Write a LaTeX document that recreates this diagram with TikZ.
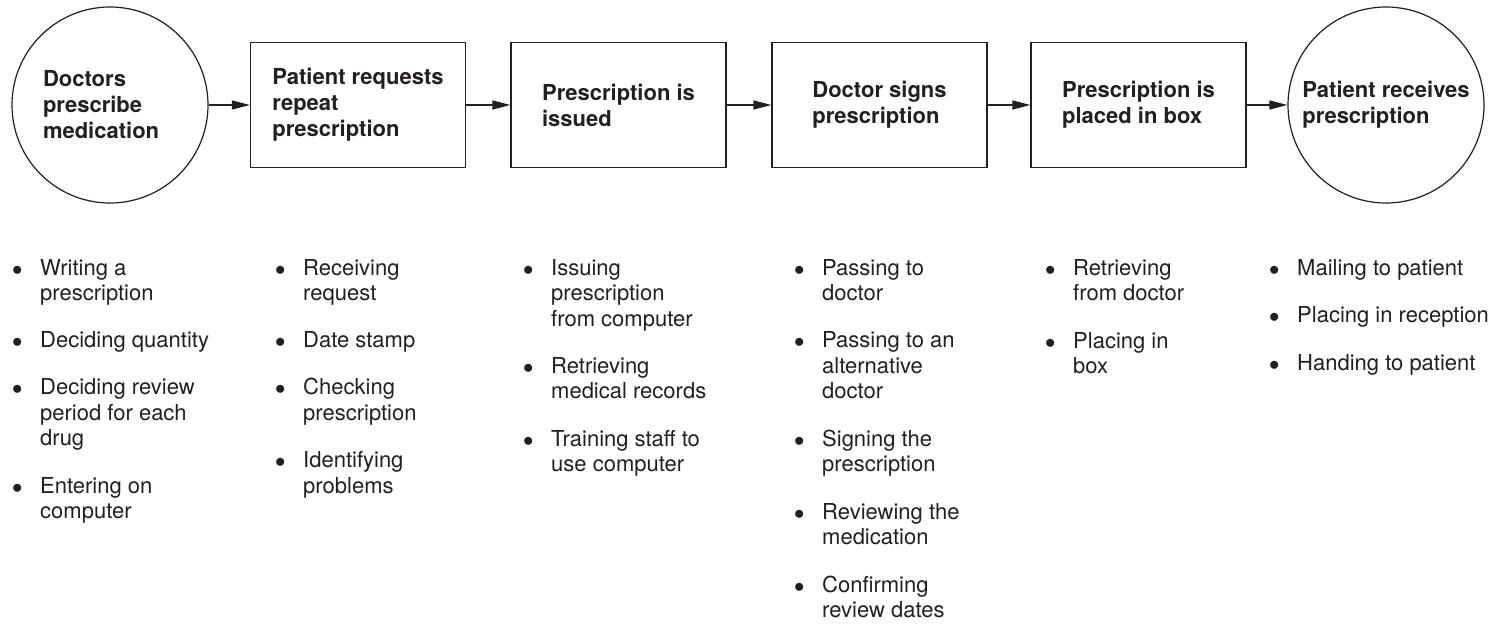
\documentclass[tikz,border=0pt]{standalone}
\usepackage{fontspec}
\setmainfont{TeX Gyre Heros}
\usetikzlibrary{arrows.meta}
\definecolor{ink}{HTML}{231F20}
\tikzset{
  stage/.style={draw=ink, text=ink, line width=1.2pt, minimum width=215pt,
    minimum height=125pt, inner sep=0pt, align=left,
    font=\bfseries\fontsize{22}{26}\selectfont},
  ends/.style={stage, circle, minimum size=196pt},
  task/.style={anchor=base west, inner sep=0pt, text=ink,
    font=\fontsize{22}{25.6}\selectfont}
}
\newcommand\bul[1]{\makebox[28pt][l]{$\bullet$}\begin{tabular}[t]{@{}l@{}}#1\end{tabular}}
\begin{document}
\begin{tikzpicture}[x=1pt,y=-1pt]
      \useasboundingbox (0,0) rectangle (1507,624);
      \node[ends, text width=134pt] (doc) at (110,105) {Doctors\\prescribe\\medication};
      \node[stage] (req) at (358,105) {Patient requests\\repeat\\prescription};
      \node[stage] (iss) at (618.5,105) {Prescription is\\issued};
      \node[stage] (sign) at (879.5,105) {Doctor signs\\prescription};
      \node[stage] (box) at (1138.5,105) {Prescription is\\placed in box};
      \node[ends] (recv) at (1386,105) {Patient receives\\prescription};
      \begin{scope}[draw=ink, line width=1.2pt, -{Triangle[length=18pt,width=9pt]}]
        \draw (doc) to (req);
        \draw (req) to (iss);
        \draw (iss) to (sign);
        \draw (sign) to (box);
        \draw (box) to (recv);
      \end{scope}
      % tasks under each stage
      \node[task] (doc1) at (12,275) {\bul{Writing a\\prescription}};
      \node[task] (doc2) at (12,347.5) {\bul{Deciding quantity}};
      \node[task] (doc3) at (12,394.5) {\bul{Deciding review\\period for each\\drug}};
      \node[task] (doc4) at (12,493) {\bul{Entering on\\computer}};
      \node[task] (req1) at (275,275) {\bul{Receiving\\request}};
      \node[task] (req2) at (275,347.5) {\bul{Date stamp}};
      \node[task] (req3) at (275,394.5) {\bul{Checking\\prescription}};
      \node[task] (req4) at (275,467.5) {\bul{Identifying\\problems}};
      \node[task] (iss1) at (523,275) {\bul{Issuing\\prescription\\from computer}};
      \node[task] (iss2) at (523,373) {\bul{Retrieving\\medical records}};
      \node[task] (iss3) at (523,446) {\bul{Training staff to\\use computer}};
      \node[task] (sign1) at (794,275) {\bul{Passing to\\doctor}};
      \node[task] (sign2) at (794,347.5) {\bul{Passing to an\\alternative\\doctor}};
      \node[task] (sign3) at (794,446) {\bul{Signing the\\prescription}};
      \node[task] (sign4) at (794,519) {\bul{Reviewing the\\medication}};
      \node[task] (sign5) at (794,592) {\bul{Confirming\\review dates}};
      \node[task] (box1) at (1045,275) {\bul{Retrieving\\from doctor}};
      \node[task] (box2) at (1045,348) {\bul{Placing in\\box}};
      \node[task] (recv1) at (1269,275) {\bul{Mailing to patient}};
      \node[task] (recv2) at (1269,322.5) {\bul{Placing in reception}};
      \node[task] (recv3) at (1269,370) {\bul{Handing to patient}};
    \end{tikzpicture}
\end{document}
